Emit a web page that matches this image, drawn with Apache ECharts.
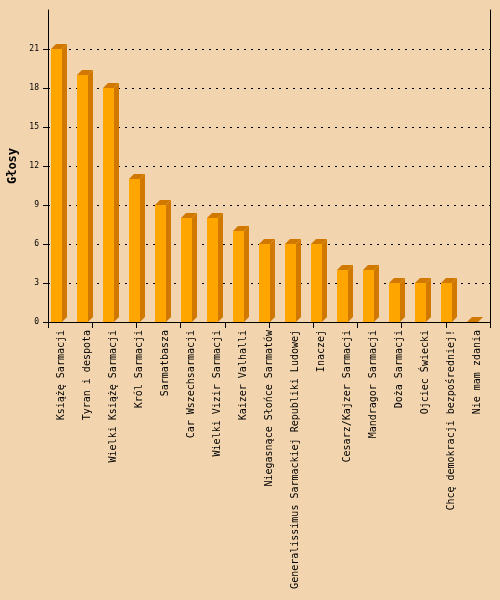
<!DOCTYPE html>
<html>
<head>
<meta charset="utf-8">
<script src="https://cdn.jsdelivr.net/npm/echarts@6/dist/echarts.min.js"></script>
<style>
  html, body { margin: 0; padding: 0; background: #f2d4ae; }
  #chart { width: 500px; height: 600px; }
</style>
</head>
<body>
<div id="chart"></div>
<script>
// titles of the poll options
const categories = [
  'Książę Sarmacji',
  'Tyran i despota',
  'Wielki Książę Sarmacji',
  'Król Sarmacji',
  'Sarmatbasza',
  'Car Wszechsarmacji',
  'Wielki Vizir Sarmacji',
  'Kaizer Valhalli',
  'Niegasnące Słońce Sarmatów',
  'Generalissimus Sarmackiej Republiki Ludowej',
  'Inaczej',
  'Cesarz/Kajzer Sarmacji',
  'Mandragor Sarmacji',
  'Doża Sarmacji',
  'Ojciec Świecki',
  'Chcę demokracji bezpośredniej!',
  'Nie mam zdania'
];
// votes
const votes = [21, 19, 18, 11, 9, 8, 8, 7, 6, 6, 6, 4, 4, 3, 3, 3, 0];
const yTicks = [0, 3, 6, 9, 12, 15, 18, 21];

const chart = echarts.init(document.getElementById('chart'));

// fake 3d bar: front, side, top
function renderBar(params, api) {
  const top = api.coord([api.value(0), api.value(1)]);
  const base = api.coord([api.value(0), 0]);
  const x0 = top[0] - 10, w = 11, d = 5;
  const x1 = x0 + w;
  const yt = top[1], yb = base[1];
  return {
    type: 'group',
    children: [
      {
        type: 'rect',
        shape: { x: x0, y: yt, width: w, height: yb - yt },
        style: { fill: '#ffa500' }
      },
      {
        type: 'polygon',
        shape: { points: [[x1, yt], [x1 + d, yt - d], [x1 + d, yb - d], [x1, yb]] },
        style: { fill: '#d07800' }
      },
      {
        type: 'polygon',
        shape: { points: [[x0, yt], [x0 + d, yt - d], [x1 + d, yt - d], [x1, yt]] },
        style: { fill: '#d07800' }
      }
    ]
  };
}

chart.setOption({
  backgroundColor: '#f2d4ae',
  animation: false,
  grid: { left: 48, right: 10, top: 10, bottom: 278, outerBoundsMode: 'none', containLabel: false },
  xAxis: [
    {
      type: 'category',
      data: categories,
      axisLine: { lineStyle: { color: '#000', width: 1 } },
      axisTick: { show: false },
      axisLabel: {
        rotate: 90,
        interval: 0,
        margin: 8,
        color: '#000',
        fontFamily: 'DejaVu Sans Mono',
        fontSize: 10
      },
      splitLine: { show: false }
    },
    {
      type: 'value',
      position: 'bottom',
      min: 0,
      max: 10,
      interval: 1,
      axisLine: { show: false },
      axisTick: { show: true, length: 6, lineStyle: { color: '#000' } },
      axisLabel: { show: false },
      splitLine: { show: false }
    }
  ],
  yAxis: [
    {
      type: 'value',
      name: 'Głosy',
      nameLocation: 'middle',
      nameGap: 29,
      nameTextStyle: {
        color: '#000',
        fontFamily: 'DejaVu Sans Mono',
        fontWeight: 'bold',
        fontSize: 12
      },
      min: 0,
      max: 24,
      interval: 3,
      axisLine: { show: true, lineStyle: { color: '#000', width: 1 } },
      axisTick: { show: true, length: 5, customValues: yTicks, lineStyle: { color: '#000' } },
      axisLabel: {
        customValues: yTicks,
        margin: 9,
        color: '#000',
        fontFamily: 'DejaVu Sans Mono',
        fontSize: 8
      },
      splitLine: {
        show: true,
        showMinLine: false,
        lineStyle: { color: '#000', type: [2, 5], width: 1 }
      }
    },
    {
      type: 'value',
      position: 'right',
      min: 0,
      max: 24,
      axisLine: { show: true, lineStyle: { color: '#000', width: 1 } },
      axisTick: { show: false },
      axisLabel: { show: false },
      splitLine: { show: false }
    }
  ],
  series: [
    {
      type: 'custom',
      xAxisIndex: 0,
      yAxisIndex: 0,
      renderItem: renderBar,
      data: votes.map((v, i) => [i, v])
    }
  ]
});
</script>
</body>
</html>
